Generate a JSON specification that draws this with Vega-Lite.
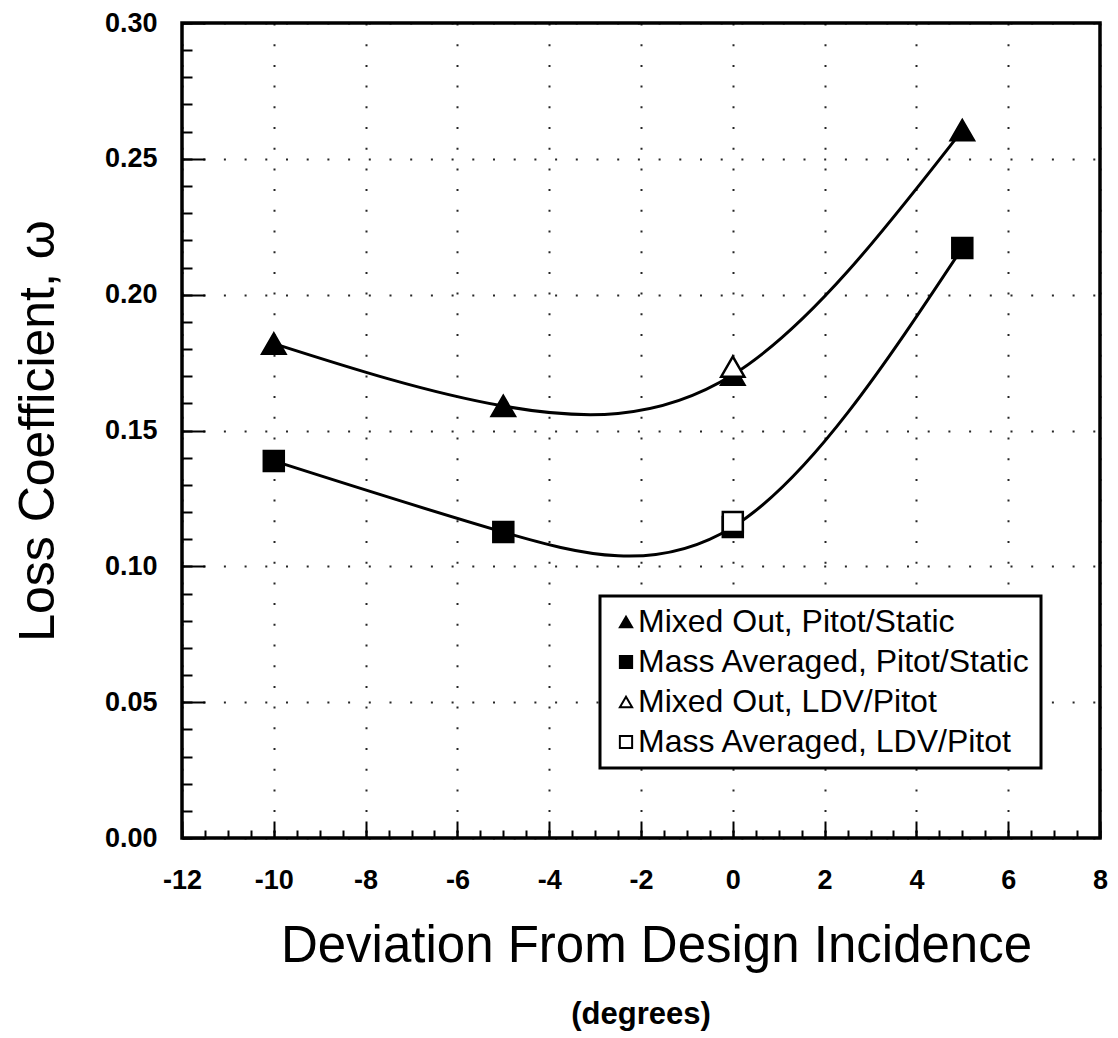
{
  "$schema": "https://vega.github.io/schema/vega-lite/v6.json",
  "width": 918,
  "height": 815,
  "autosize": {"type": "none"},
  "padding": {"left": 182, "top": 23, "right": 18, "bottom": 200},
  "background": "white",
  "title": {
    "text": "(degrees)",
    "orient": "bottom",
    "anchor": "middle",
    "frame": "group",
    "font": "Liberation Sans",
    "fontSize": 31,
    "fontWeight": "bold",
    "color": "black",
    "offset": 29
  },
  "data": {
    "values": [
      {"x": -10, "y": 0.182, "series": "Mixed Out, Pitot/Static", "kind": "PS", "marker": "tri"},
      {"x": -5, "y": 0.159, "series": "Mixed Out, Pitot/Static", "kind": "PS", "marker": "tri"},
      {"x": 0, "y": 0.1705, "series": "Mixed Out, Pitot/Static", "kind": "PS", "marker": "tri"},
      {"x": 5, "y": 0.2605, "series": "Mixed Out, Pitot/Static", "kind": "PS", "marker": "tri"},
      {"x": -10, "y": 0.1388, "series": "Mass Averaged, Pitot/Static", "kind": "PS", "marker": "sq"},
      {"x": -5, "y": 0.1126, "series": "Mass Averaged, Pitot/Static", "kind": "PS", "marker": "sq"},
      {"x": 0, "y": 0.1145, "series": "Mass Averaged, Pitot/Static", "kind": "PS", "marker": "sq"},
      {"x": 5, "y": 0.2172, "series": "Mass Averaged, Pitot/Static", "kind": "PS", "marker": "sq"},
      {"x": 0, "y": 0.1735, "series": "Mixed Out, LDV/Pitot", "kind": "LDV", "marker": "tri"},
      {"x": 0, "y": 0.1163, "series": "Mass Averaged, LDV/Pitot", "kind": "LDV", "marker": "sq"}
    ]
  },
  "layer": [
    {
      "transform": [{"filter": "datum.kind === 'PS'"}],
      "mark": {"type": "line", "interpolate": "natural", "color": "black", "strokeWidth": 3},
      "encoding": {
        "x": {
          "field": "x", "type": "quantitative",
          "scale": {"domain": [-12, 8], "nice": false, "zero": false},
          "axis": {
            "title": "Deviation From Design Incidence",
            "orient": "bottom",
            "values": [-12, -10, -8, -6, -4, -2, 0, 2, 4, 6, 8],
            "labelExpr": "replace(datum.label, '\u2212', '-')",
            "domain": false,
            "tickSize": -17,
            "tickWidth": 2,
            "tickColor": "black",
            "labelPadding": 46,
            "labelFont": "Liberation Sans",
            "labelFontSize": 27,
            "labelFontWeight": "bold",
            "labelColor": "black",
            "labelFlush": false,
            "labelOverlap": false,
            "titleFont": "Liberation Sans",
            "titleFontSize": 51,
            "titleFontWeight": "normal",
            "titleColor": "black",
            "titlePadding": 28,
            "titleX": 474,
            "grid": true,
            "gridColor": "black",
            "gridWidth": 2,
            "gridDash": [2, 18.7],
            "gridOpacity": 0.85
          }
        },
        "y": {
          "field": "y", "type": "quantitative",
          "scale": {"domain": [0, 0.3], "nice": false, "zero": false},
          "axis": {
            "title": "Loss Coefficient, ω",
            "orient": "left",
            "values": [0, 0.05, 0.1, 0.15, 0.2, 0.25, 0.3],
            "format": ".2f",
            "domain": false,
            "tickSize": -23,
            "tickWidth": 2,
            "tickColor": "black",
            "labelPadding": 48,
            "labelFont": "Liberation Sans",
            "labelFontSize": 27,
            "labelFontWeight": "bold",
            "labelColor": "black",
            "labelFlush": false,
            "labelOverlap": false,
            "titleFont": "Liberation Sans",
            "titleFontSize": 50,
            "titleFontWeight": "normal",
            "titleColor": "black",
            "titlePadding": 41,
            "grid": true,
            "gridColor": "black",
            "gridWidth": 2,
            "gridDash": [2, 18.7],
            "gridOpacity": 0.85
          }
        },
        "detail": {"field": "series"}
      }
    },
    {
      "transform": [{"filter": "datum.marker === 'tri'"}],
      "mark": {"type": "point", "stroke": "black", "strokeWidth": 2.5, "opacity": 1, "size": 540},
      "encoding": {
        "x": {
          "field": "x", "type": "quantitative",
          "axis": {
            "orient": "bottom",
            "title": null,
            "values": [-12, -11.5, -11, -10.5, -10, -9.5, -9, -8.5, -8, -7.5, -7, -6.5, -6, -5.5, -5, -4.5, -4, -3.5, -3, -2.5, -2, -1.5, -1, -0.5, 0, 0.5, 1, 1.5, 2, 2.5, 3, 3.5, 4, 4.5, 5, 5.5, 6, 6.5, 7, 7.5, 8],
            "labels": false,
            "domain": false,
            "grid": false,
            "tickSize": -8,
            "tickWidth": 2,
            "tickColor": "black"
          }
        },
        "y": {
          "field": "y", "type": "quantitative",
          "axis": {
            "orient": "left",
            "title": null,
            "values": [0, 0.01, 0.02, 0.03, 0.04, 0.05, 0.06, 0.07, 0.08, 0.09, 0.1, 0.11, 0.12, 0.13, 0.14, 0.15, 0.16, 0.17, 0.18, 0.19, 0.2, 0.21, 0.22, 0.23, 0.24, 0.25, 0.26, 0.27, 0.28, 0.29, 0.3],
            "labels": false,
            "domain": false,
            "grid": false,
            "tickSize": -10,
            "tickWidth": 2,
            "tickColor": "black"
          }
        },
        "shape": {
          "field": "series", "type": "nominal",
          "scale": {
            "domain": ["Mixed Out, Pitot/Static", "Mass Averaged, Pitot/Static", "Mixed Out, LDV/Pitot", "Mass Averaged, LDV/Pitot"],
            "range": ["triangle-up", "square", "triangle-up", "square"]
          },
          "legend": {
            "title": null,
            "encode": {"symbols": {"update": {"stroke": {"value": "black"}, "strokeWidth": {"value": 2}}}}
          }
        },
        "fill": {
          "field": "series", "type": "nominal",
          "scale": {
            "domain": ["Mixed Out, Pitot/Static", "Mass Averaged, Pitot/Static", "Mixed Out, LDV/Pitot", "Mass Averaged, LDV/Pitot"],
            "range": ["black", "black", "white", "white"]
          },
          "legend": {
            "title": null,
            "encode": {"symbols": {"update": {"stroke": {"value": "black"}, "strokeWidth": {"value": 2}}}}
          }
        }
      }
    },
    {
      "transform": [{"filter": "datum.marker === 'sq'"}],
      "mark": {"type": "point", "stroke": "black", "strokeWidth": 2.5, "opacity": 1, "size": 400},
      "encoding": {
        "x": {"field": "x", "type": "quantitative", "axis": null},
        "y": {"field": "y", "type": "quantitative", "axis": null},
        "shape": {
          "field": "series", "type": "nominal",
          "legend": {
            "title": null,
            "encode": {"symbols": {"update": {"stroke": {"value": "black"}, "strokeWidth": {"value": 2}}}}
          }
        },
        "fill": {
          "field": "series", "type": "nominal",
          "legend": {
            "title": null,
            "encode": {"symbols": {"update": {"stroke": {"value": "black"}, "strokeWidth": {"value": 2}}}}
          }
        }
      }
    }
  ],
  "resolve": {"axis": {"x": "independent", "y": "independent"}},
  "config": {
    "view": {"stroke": "black", "strokeWidth": 3.5},
    "legend": {
      "orient": "none",
      "legendX": 418,
      "legendY": 573,
      "padding": 10,
      "fillColor": "white",
      "strokeColor": "black",
      "strokeWidth": 3,
      "labelFont": "Liberation Sans",
      "labelFontSize": 32,
      "labelColor": "black",
      "labelLimit": 600,
      "labelOffset": -4,
      "symbolSize": 150,
      "symbolStrokeColor": "black",
      "symbolStrokeWidth": 2,
      "symbolOpacity": 1,
      "rowPadding": 8,
      "cornerRadius": 0
    }
  }
}
